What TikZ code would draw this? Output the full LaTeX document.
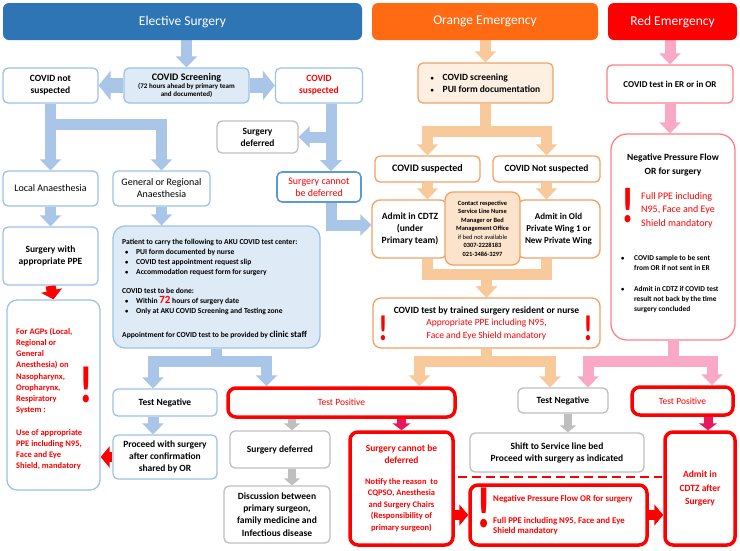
\documentclass[tikz,border=0pt]{standalone}
\usepackage{fontspec}
\setmainfont{Carlito}
\usetikzlibrary{arrows.meta}
\pgfdeclarelayer{bg}
\pgfsetlayers{bg,main}
\newcommand\myfs[2]{\fontsize{#1}{#2}\selectfont}
\newcommand\smb{{\myfs{6.5}{6.5}•}}
\definecolor{hdrblue}{HTML}{2E75B6}
\definecolor{hdrorange}{HTML}{FF6A13}
\definecolor{hdrred}{HTML}{FF0000}
\definecolor{barblue}{HTML}{A9C6E8}
\definecolor{bdrblue}{HTML}{9DC3E6}
\definecolor{fillblue}{HTML}{DEEBF7}
\definecolor{darkbdr}{HTML}{5B9BD5}
\definecolor{barorange}{HTML}{F8C99A}
\definecolor{bdrorange}{HTML}{F4A163}
\definecolor{fillorange}{HTML}{FDF0E2}
\definecolor{fillorange2}{HTML}{FBE3CC}
\definecolor{barpink}{HTML}{F9A8C6}
\definecolor{bdrpink}{HTML}{FF7F86}
\definecolor{bargray}{HTML}{BFBFBF}
\definecolor{bdrgray}{HTML}{BFBFBF}
\definecolor{magc}{HTML}{E6195F}
\begin{document}
\begin{tikzpicture}[x=1pt,y=-1pt,
 sz/.style 2 args={minimum width=#1pt,minimum height=#2pt},
 box/.style={draw,line width=1.3pt,rounded corners=5pt,fill=white,align=center,inner sep=1pt,font=\bfseries\myfs{9.5}{12}},
 bb/.style={box,draw=bdrblue},
 ob/.style={box,draw=bdrorange},
 pb/.style={box,draw=bdrpink},
 gb/.style={box,draw=bdrgray},
 rb/.style={box,draw=red,line width=3.5pt,rounded corners=8pt},
 hdr/.style={rounded corners=6pt,text=white,font=\myfs{13.5}{15},inner sep=0pt},
 lbl/.style={inner sep=0pt,align=left},
 bang/.style={inner sep=0pt,text=red,font=\bfseries\myfs{#1}{#1},xscale=0.8},
 fat/.style={line width=11pt,line join=miter,-{Triangle[width=21pt,length=11pt]}},
 barb/.style={fat,draw=barblue},
 barbh/.style={draw=barblue,line width=15pt,-{Triangle[width=29pt,length=12pt]}},
 baro/.style={fat,draw=barorange},
 barp/.style={fat,draw=barpink},
 grayarr/.style={draw=bargray,line width=8pt,-{Triangle[width=16pt,length=7pt]}},
 redarr/.style={draw=red,line width=10pt,-{Triangle[width=21pt,length=9pt]}},
 magarr/.style={draw=magc,line width=9pt,-{Triangle[width=18pt,length=7pt]}}
]
\useasboundingbox (0,0) rectangle (740,550);
% headers
\node[hdr,fill=hdrblue,sz={359}{37}] (hdrE) at (182.5,21.5) {Elective Surgery};
\node[hdr,fill=hdrorange,sz={226}{37}] (hdrO) at (485,21.5) {Orange Emergency};
\node[hdr,fill=hdrred,sz={129}{37}] (hdrR) at (672.5,21.5) {Red Emergency};
% elective
\node[bb,fill=fillblue,sz={125}{35},text width=121pt,align=flush center] (scr) at (186.5,85.5) {{\myfs{10}{12}COVID Screening\par}{\myfs{7}{7.8}(72 hours ahead by primary team\\and documented)\par}};
\node[bb,sz={95}{35}] (ns) at (50.5,85.5) {COVID not\\suspected};
\node[bb,sz={87}{35},text=red] (sus) at (319,85.5) {COVID\\suspected};
\node[gb,sz={81}{32}] (def) at (257.5,137) {Surgery\\deferred};
\node[box,draw=darkbdr,line width=1.6pt,sz={84}{30},text=red,font=\myfs{10}{12}] (cannot) at (319,187) {Surgery cannot\\be deferred};
\node[bb,sz={95}{35},font=\myfs{10}{12}] (loc) at (50.5,188.5) {Local Anaesthesia};
\node[bb,sz={97}{35},font=\myfs{10}{12}] (gen) at (161.5,188.5) {General or Regional\\Anaesthesia};
\node[bb,sz={95}{58}] (ppe) at (50.5,256) {Surgery with\\appropriate PPE};
\node[bb,sz={93}{190},rounded corners=10pt] (agp) at (53.5,395) {};
\node[lbl,anchor=west,text=red,font=\bfseries\myfs{8.5}{11.2}] (agpt) at (16,399) {For AGPs (Local,\\Regional or\\General\\Anesthesia) on\\Nasopharynx,\\Oropharynx,\\Respiratory\\System :\\[11.2pt]Use of appropriate\\PPE including N95,\\Face and Eye\\Shield, mandatory};
\node[bang=52] (agpx) at (86,385) {!};
\node[bb,fill=fillblue,sz={207}{122},rounded corners=12pt] (pat) at (216.5,287) {};
\node[lbl,anchor=west,font=\bfseries\myfs{7.6}{10}] (patt) at (122,289) {Patient to carry the following to AKU COVID test center:\\
\hspace*{3pt}\makebox[11pt][l]{\smb}PUI form documented by nurse\\
\hspace*{3pt}\makebox[11pt][l]{\smb}COVID test appointment request slip\\
\hspace*{3pt}\makebox[11pt][l]{\smb}Accommodation request form for surgery\\[9pt]
COVID test to be done:\\
\hspace*{3pt}\makebox[11pt][l]{\smb}Within {\color{red}\myfs{11}{10}72} hours of surgery date\\
\hspace*{3pt}\makebox[11pt][l]{\smb}Only at AKU COVID Screening and Testing zone\\[14pt]
Appointment for COVID test to be provided by {\myfs{9}{10}clinic staff}};
\node[bb,sz={104}{27},font=\bfseries\myfs{9.5}{11}] (tneg) at (165,402.5) {Test Negative};
\node[rb,sz={227}{29},text=red,font=\myfs{9.5}{11}] (tpos) at (341.5,402.5) {Test Positive};
\node[bb,sz={104}{44},font=\bfseries\myfs{9.5}{12}] (proc) at (165,457) {Proceed with surgery\\after confirmation\\shared by OR};
\node[gb,sz={100}{37},font=\bfseries\myfs{9.5}{11}] (sdef) at (280,449.5) {Surgery deferred};
\node[gb,sz={106}{57},font=\bfseries\myfs{9.5}{12.3}] (disc) at (277,514.5) {Discussion between\\primary surgeon,\\family medicine and\\Infectious disease};
\node[rb,sz={103}{113},text=red,text width=98pt,align=flush center] (cnd) at (401.5,488.5) {{\myfs{9.5}{12}Surgery cannot be\\deferred\par}\vspace{9pt}{\myfs{8.5}{11.5}Notify the reason\ \ to\\CQPSO, Anesthesia\\and Surgery Chairs\\(Responsibility of\\primary surgeon)\par}};
\node[rb,sz={177}{60}] (npf) at (558.5,515) {};
\node[bang=58] (npfx) at (484,508) {!};
\node[lbl,anchor=west,text=red,font=\bfseries\myfs{8.8}{9.5}] (npft) at (493,515) {Negative Pressure Flow OR for surgery\\[13pt]Full PPE including N95, Face and Eye\\Shield mandatory};
\node[rb,sz={70}{113},text=red,font=\bfseries\myfs{9.5}{13.5}] (aft) at (700,488.5) {Admit in\\CDTZ after\\Surgery};
\node[gb,sz={90}{25},font=\bfseries\myfs{9.5}{11}] (gneg) at (563,400.5) {Test Negative};
\node[gb,sz={174}{39},font=\bfseries\myfs{9.5}{12}] (shift) at (557,452.5) {Shift to Service line bed\\Proceed with surgery as indicated};
\node[rb,sz={101}{28},text=red,font=\myfs{9.5}{11}] (rpos) at (682.5,401) {Test Positive};
\coordinate (dl) at (458,477);
\coordinate (dr) at (662,477);
% orange
\node[ob,fill=fillorange,sz={135}{40},align=left,font=\bfseries\myfs{9.5}{12}] (oscr) at (485.5,83) {\makebox[12pt][l]{\smb}COVID screening\\\makebox[12pt][l]{\smb}PUI form documentation};
\node[ob,sz={105}{26},font=\bfseries\myfs{10}{12}] (osus) at (427.5,169) {COVID suspected};
\node[ob,sz={107}{26},font=\bfseries\myfs{9.5}{12}] (onsus) at (546.5,169) {COVID Not suspected};
\node[ob,sz={76}{58},rounded corners=8pt] (adm) at (410,229) {Admit in CDTZ\\(under\\Primary team)};
\node[ob,sz={83}{58},rounded corners=8pt,font=\bfseries\myfs{9}{12}] (old) at (558.5,229) {Admit in Old\\Private Wing 1 or\\New Private Wing};
\node[ob,fill=fillorange2,sz={75}{73},rounded corners=8pt,font=\bfseries\myfs{6.4}{8.5}] (cont) at (482.5,228.5) {Contact respective\\Service Line Nurse\\Manager or Bed\\Management Office\\{\mdseries if bed not available}\\0307-2228183\\021-3486-3297};
\node[ob,sz={227}{50},rounded corners=8pt,text width=222pt,align=flush center] (otest) at (486.5,323) {{\myfs{9.5}{12.5}COVID test by trained surgery resident or nurse\par}{\mdseries\color{red}\myfs{9.5}{12.5}Appropriate PPE including N95,\\Face and Eye Shield mandatory\par}};
\node[bang=36] (otx1) at (383,328) {!};
\node[bang=36] (otx2) at (588,328) {!};
% red
\node[pb,sz={126}{38},font=\bfseries\myfs{9}{11}] (rtest) at (670,84) {COVID test in ER or in OR};
\node[pb,sz={124}{206},rounded corners=16pt] (npr) at (673,237) {};
\node[inner sep=0pt,align=center,font=\bfseries\myfs{9.5}{13.5}] (nprt1) at (673,165) {Negative Pressure Flow\\OR for surgery};
\node[bang=50] (nprx) at (628,206) {!};
\node[lbl,anchor=west,text=red,font=\myfs{10}{13.5}] (nprt2) at (641,210) {Full PPE including\\N95, Face and Eye\\Shield mandatory};
\node[lbl,anchor=west,font=\bfseries\myfs{7.4}{10.3}] (nprt3) at (621,284) {\makebox[13pt][l]{\smb}COVID sample to be sent\\\hspace*{13pt}from OR if not sent in ER\\[10.3pt]\makebox[13pt][l]{\smb}Admit in CDTZ if COVID test\\\hspace*{13pt}result not back by the time\\\hspace*{13pt}surgery concluded};
\begin{pgfonlayer}{bg}
\fill[white] (0,0) rectangle (740,550);
% elective connectors
\draw[barb] (scr.north |- hdrE.south) -- (scr.north);
\draw[barbh] (scr.west) -- (ns.east);
\draw[barbh] (scr.east) -- (sus.west);
\draw[barb] (ns.south) -- (loc.north);
\draw[barb] (ns.south) -- ++(0,21) -| (gen.north);
\draw[barb] ([xshift=12pt]sus.south) -- ([xshift=12pt]cannot.north);
\draw[barb] ([xshift=12pt]sus.south) |- (def.east);
\draw[barb] ([xshift=12pt]cannot.south) |- ([yshift=4pt]adm.west);
\draw[barb] (loc.south) -- (ppe.north);
\draw[barb] (gen.south) -- (gen.south |- pat.north);
\draw[redarr] (ppe.south) -- (agp.north);
\draw[barb] (pat.south) -- ++(0,13) -| ([xshift=-12pt]tneg.north);
\draw[barb] (pat.south) -- ++(0,13) -| ([xshift=-75pt]tpos.north);
\draw[barb] ([xshift=-12pt]tneg.south) -- ([xshift=-12pt]proc.north);
\draw[redarr] (proc.west) -- (proc.west -| agp.east);
\draw[grayarr] ([xshift=12pt]sdef.north |- tpos.south) -- ([xshift=12pt]sdef.north);
\draw[grayarr] ([xshift=12pt]sdef.south) -- ([xshift=12pt]sdef.south |- disc.north);
\draw[magarr] (cnd.north |- tpos.south) -- (cnd.north);
\draw[redarr] (npf.west -| cnd.east) -- (npf.west);
\draw[redarr] (npf.east) -- (npf.east -| aft.west);
\draw[red,line width=2.5pt,dash pattern=on 9pt off 5pt] (dl) -- (dr);
% orange connectors
\draw[baro] (oscr.north |- hdrO.south) -- (oscr.north);
\draw[baro] (oscr.south) -- ++(0,28) -| (osus.north);
\draw[baro] (oscr.south) -- ++(0,28) -| (onsus.north);
\draw[baro] (osus.south) -- (osus.south |- adm.north);
\draw[baro] (onsus.south) -- (onsus.south |- old.north);
\draw[baro] (osus.south |- adm.south) -- ++(0,16) -| (otest.north);
\draw[baro] (onsus.south |- old.south) -- ++(0,16) -| (otest.north);
\draw[baro] (otest.south) -- ++(0,13) -| ([xshift=78pt]tpos.north);
\draw[baro] (otest.south) -- ++(0,13) -| ([xshift=-13pt]gneg.north);
% red connectors
\draw[barp] (rtest.north |- hdrR.south) -- (rtest.north);
\draw[barp] (rtest.south) -- (rtest.south |- npr.north);
\draw[barp] (npr.south) -- ++(0,21) -| ([xshift=25pt]gneg.north);
\draw[barp] (npr.south) -- ++(0,21) -| ([xshift=29.5pt]rpos.north);
\draw[magarr] ([xshift=8pt]aft.north |- rpos.south) -- ([xshift=8pt]aft.north);
\draw[grayarr] ([xshift=5pt]gneg.south) -- ([xshift=5pt]gneg.south |- shift.north);
\end{pgfonlayer}
\end{tikzpicture}
\end{document}
